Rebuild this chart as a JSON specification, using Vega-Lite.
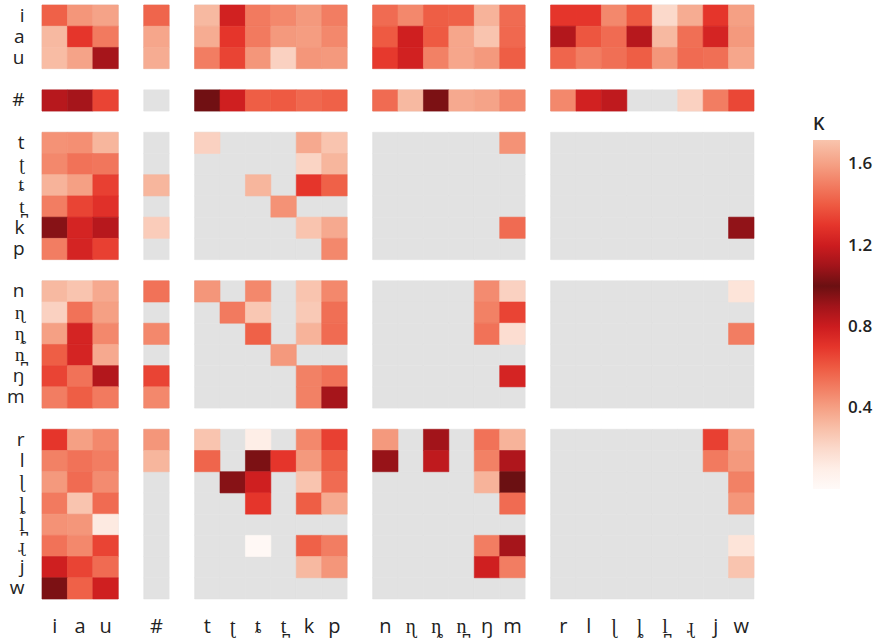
{
  "$schema": "https://vega.github.io/schema/vega-lite/v6.json",
  "autosize": {"type": "none"},
  "padding": {"left": 42, "top": 5, "right": 123, "bottom": 40},
  "width": 712,
  "height": 594,
  "config": {"view": {"stroke": null}, "font": "Open Sans"},
  "encoding": {
    "x": {
      "field": "c", "type": "nominal", "sort": null,
      "scale": {"domain": ["i","a","u","s1","#","s2","t","ʈ","ȶ","t\u032a","k","p","s3","n","ɳ","ȵ","n\u032a","ŋ","m","s4","r","l","ɭ","ȴ","l\u032a","ɻ","j","w"], "paddingInner": 0, "paddingOuter": 0},
      "axis": {"values": ["i","a","u","#","t","ʈ","ȶ","t\u032a","k","p","n","ɳ","ȵ","n\u032a","ŋ","m","r","l","ɭ","ȴ","l\u032a","ɻ","j","w"], "domain": false, "ticks": false, "title": null, "labelAngle": 0, "labelFontSize": 20, "labelPadding": 17, "labelColor": "#222222", "labelFont": "Open Sans"}
    },
    "y": {
      "field": "r", "type": "nominal", "sort": null,
      "scale": {"domain": ["i","a","u","s1","#","s2","t","ʈ","ȶ","t\u032a","k","p","s3","n","ɳ","ȵ","n\u032a","ŋ","m","s4","r","l","ɭ","ȴ","l\u032a","ɻ","j","w"], "paddingInner": 0, "paddingOuter": 0},
      "axis": {"values": ["i","a","u","#","t","ʈ","ȶ","t\u032a","k","p","n","ɳ","ȵ","n\u032a","ŋ","m","r","l","ɭ","ȴ","l\u032a","ɻ","j","w"], "domain": false, "ticks": false, "title": null, "labelFontSize": 19, "labelPadding": 18, "labelColor": "#222222", "labelFont": "Open Sans"}
    }
  },
  "layer": [
    {
      "data": {"values": [{"r": ["i","a","u","#","t","ʈ","ȶ","t\u032a","k","p","n","ɳ","ȵ","n\u032a","ŋ","m","r","l","ɭ","ȴ","l\u032a","ɻ","j","w"], "c": ["i","a","u","#","t","ʈ","ȶ","t\u032a","k","p","n","ɳ","ȵ","n\u032a","ŋ","m","r","l","ɭ","ȴ","l\u032a","ɻ","j","w"]}]},
      "transform": [{"flatten": ["r"]}, {"flatten": ["c"]}],
      "mark": {"type": "rect", "color": "#e2e2e2", "fill": "#e2e2e2", "stroke": "#e2e2e2", "strokeWidth": 0.6}
    },
    {
      "data": {"values": [
        {"r":"i","c":"i","K":0.58},{"r":"i","c":"a","K":0.43},{"r":"i","c":"u","K":0.39},{"r":"i","c":"#","K":0.57},
        {"r":"i","c":"t","K":0.32},{"r":"i","c":"ʈ","K":0.78},{"r":"i","c":"ȶ","K":0.51},{"r":"i","c":"t\u032a","K":0.47},{"r":"i","c":"k","K":0.42},{"r":"i","c":"p","K":0.50},
        {"r":"i","c":"n","K":0.55},{"r":"i","c":"ɳ","K":0.47},{"r":"i","c":"ȵ","K":0.59},{"r":"i","c":"n\u032a","K":0.58},{"r":"i","c":"ŋ","K":0.34},{"r":"i","c":"m","K":0.55},
        {"r":"i","c":"r","K":0.70},{"r":"i","c":"l","K":0.70},{"r":"i","c":"ɭ","K":0.47},{"r":"i","c":"ȴ","K":0.60},{"r":"i","c":"l\u032a","K":0.20},{"r":"i","c":"ɻ","K":0.36},{"r":"i","c":"j","K":0.70},{"r":"i","c":"w","K":0.40},

        {"r":"a","c":"i","K":0.32},{"r":"a","c":"a","K":0.70},{"r":"a","c":"u","K":0.51},{"r":"a","c":"#","K":0.38},
        {"r":"a","c":"t","K":0.36},{"r":"a","c":"ʈ","K":0.70},{"r":"a","c":"ȶ","K":0.51},{"r":"a","c":"t\u032a","K":0.42},{"r":"a","c":"k","K":0.41},{"r":"a","c":"p","K":0.47},
        {"r":"a","c":"n","K":0.60},{"r":"a","c":"ɳ","K":0.79},{"r":"a","c":"ȵ","K":0.60},{"r":"a","c":"n\u032a","K":0.38},{"r":"a","c":"ŋ","K":0.28},{"r":"a","c":"m","K":0.56},
        {"r":"a","c":"r","K":0.86},{"r":"a","c":"l","K":0.61},{"r":"a","c":"ɭ","K":0.55},{"r":"a","c":"ȴ","K":0.85},{"r":"a","c":"l\u032a","K":0.32},{"r":"a","c":"ɻ","K":0.54},{"r":"a","c":"j","K":0.77},{"r":"a","c":"w","K":0.42},

        {"r":"u","c":"i","K":0.31},{"r":"u","c":"a","K":0.39},{"r":"u","c":"u","K":0.89},{"r":"u","c":"#","K":0.36},
        {"r":"u","c":"t","K":0.50},{"r":"u","c":"ʈ","K":0.66},{"r":"u","c":"ȶ","K":0.43},{"r":"u","c":"t\u032a","K":0.23},{"r":"u","c":"k","K":0.43},{"r":"u","c":"p","K":0.42},
        {"r":"u","c":"n","K":0.69},{"r":"u","c":"ɳ","K":0.78},{"r":"u","c":"ȵ","K":0.49},{"r":"u","c":"n\u032a","K":0.38},{"r":"u","c":"ŋ","K":0.42},{"r":"u","c":"m","K":0.59},
        {"r":"u","c":"r","K":0.57},{"r":"u","c":"l","K":0.50},{"r":"u","c":"ɭ","K":0.54},{"r":"u","c":"ȴ","K":0.59},{"r":"u","c":"l\u032a","K":0.43},{"r":"u","c":"ɻ","K":0.55},{"r":"u","c":"j","K":0.54},{"r":"u","c":"w","K":0.38},

        {"r":"#","c":"i","K":0.85},{"r":"#","c":"a","K":0.89},{"r":"#","c":"u","K":0.66},
        {"r":"#","c":"t","K":0.99},{"r":"#","c":"ʈ","K":0.79},{"r":"#","c":"ȶ","K":0.59},{"r":"#","c":"t\u032a","K":0.60},{"r":"#","c":"k","K":0.56},{"r":"#","c":"p","K":0.58},
        {"r":"#","c":"n","K":0.55},{"r":"#","c":"ɳ","K":0.32},{"r":"#","c":"ȵ","K":0.97},{"r":"#","c":"n\u032a","K":0.37},{"r":"#","c":"ŋ","K":0.39},{"r":"#","c":"m","K":0.47},
        {"r":"#","c":"r","K":0.47},{"r":"#","c":"l","K":0.78},{"r":"#","c":"ɭ","K":0.83},{"r":"#","c":"ɻ","K":0.23},{"r":"#","c":"j","K":0.50},{"r":"#","c":"w","K":0.65},

        {"r":"t","c":"i","K":0.44},{"r":"t","c":"a","K":0.45},{"r":"t","c":"u","K":0.33},{"r":"t","c":"t","K":0.23},{"r":"t","c":"k","K":0.37},{"r":"t","c":"p","K":0.28},{"r":"t","c":"m","K":0.44},
        {"r":"ʈ","c":"i","K":0.47},{"r":"ʈ","c":"a","K":0.53},{"r":"ʈ","c":"u","K":0.52},{"r":"ʈ","c":"k","K":0.22},{"r":"ʈ","c":"p","K":0.33},
        {"r":"ȶ","c":"i","K":0.34},{"r":"ȶ","c":"a","K":0.40},{"r":"ȶ","c":"u","K":0.67},{"r":"ȶ","c":"#","K":0.33},{"r":"ȶ","c":"ȶ","K":0.33},{"r":"ȶ","c":"k","K":0.70},{"r":"ȶ","c":"p","K":0.58},
        {"r":"t\u032a","c":"i","K":0.50},{"r":"t\u032a","c":"a","K":0.66},{"r":"t\u032a","c":"u","K":0.72},{"r":"t\u032a","c":"t\u032a","K":0.44},
        {"r":"k","c":"i","K":0.95},{"r":"k","c":"a","K":0.77},{"r":"k","c":"u","K":0.85},{"r":"k","c":"#","K":0.25},{"r":"k","c":"k","K":0.28},{"r":"k","c":"p","K":0.37},{"r":"k","c":"m","K":0.55},{"r":"k","c":"w","K":0.93},
        {"r":"p","c":"i","K":0.50},{"r":"p","c":"a","K":0.77},{"r":"p","c":"u","K":0.67},{"r":"p","c":"p","K":0.47},

        {"r":"n","c":"i","K":0.32},{"r":"n","c":"a","K":0.28},{"r":"n","c":"u","K":0.37},{"r":"n","c":"#","K":0.53},{"r":"n","c":"t","K":0.43},{"r":"n","c":"ȶ","K":0.47},{"r":"n","c":"k","K":0.28},{"r":"n","c":"p","K":0.47},{"r":"n","c":"ŋ","K":0.46},{"r":"n","c":"m","K":0.23},{"r":"n","c":"w","K":0.15},
        {"r":"ɳ","c":"i","K":0.23},{"r":"ɳ","c":"a","K":0.53},{"r":"ɳ","c":"u","K":0.40},{"r":"ɳ","c":"ʈ","K":0.51},{"r":"ɳ","c":"ȶ","K":0.27},{"r":"ɳ","c":"k","K":0.26},{"r":"ɳ","c":"p","K":0.54},{"r":"ɳ","c":"ŋ","K":0.49},{"r":"ɳ","c":"m","K":0.66},
        {"r":"ȵ","c":"i","K":0.40},{"r":"ȵ","c":"a","K":0.77},{"r":"ȵ","c":"u","K":0.47},{"r":"ȵ","c":"#","K":0.47},{"r":"ȵ","c":"ȶ","K":0.58},{"r":"ȵ","c":"k","K":0.34},{"r":"ȵ","c":"p","K":0.55},{"r":"ȵ","c":"ŋ","K":0.53},{"r":"ȵ","c":"m","K":0.18},{"r":"ȵ","c":"w","K":0.50},
        {"r":"n\u032a","c":"i","K":0.59},{"r":"n\u032a","c":"a","K":0.77},{"r":"n\u032a","c":"u","K":0.37},{"r":"n\u032a","c":"t\u032a","K":0.42},
        {"r":"ŋ","c":"i","K":0.66},{"r":"ŋ","c":"a","K":0.53},{"r":"ŋ","c":"u","K":0.86},{"r":"ŋ","c":"#","K":0.66},{"r":"ŋ","c":"k","K":0.49},{"r":"ŋ","c":"p","K":0.53},{"r":"ŋ","c":"m","K":0.77},
        {"r":"m","c":"i","K":0.50},{"r":"m","c":"a","K":0.59},{"r":"m","c":"u","K":0.51},{"r":"m","c":"#","K":0.47},{"r":"m","c":"k","K":0.49},{"r":"m","c":"p","K":0.89},

        {"r":"r","c":"i","K":0.70},{"r":"r","c":"a","K":0.40},{"r":"r","c":"u","K":0.47},{"r":"r","c":"#","K":0.43},{"r":"r","c":"t","K":0.28},{"r":"r","c":"ȶ","K":0.10},{"r":"r","c":"k","K":0.47},{"r":"r","c":"p","K":0.67},{"r":"r","c":"n","K":0.42},{"r":"r","c":"ȵ","K":0.90},{"r":"r","c":"ŋ","K":0.53},{"r":"r","c":"m","K":0.34},{"r":"r","c":"j","K":0.67},{"r":"r","c":"w","K":0.40},
        {"r":"l","c":"i","K":0.49},{"r":"l","c":"a","K":0.53},{"r":"l","c":"u","K":0.50},{"r":"l","c":"#","K":0.33},{"r":"l","c":"t","K":0.57},{"r":"l","c":"ȶ","K":0.97},{"r":"l","c":"t\u032a","K":0.70},{"r":"l","c":"k","K":0.42},{"r":"l","c":"p","K":0.59},{"r":"l","c":"n","K":0.92},{"r":"l","c":"ȵ","K":0.83},{"r":"l","c":"ŋ","K":0.49},{"r":"l","c":"m","K":0.87},{"r":"l","c":"j","K":0.51},{"r":"l","c":"w","K":0.42},
        {"r":"ɭ","c":"i","K":0.42},{"r":"ɭ","c":"a","K":0.55},{"r":"ɭ","c":"u","K":0.46},{"r":"ɭ","c":"ʈ","K":0.95},{"r":"ɭ","c":"ȶ","K":0.79},{"r":"ɭ","c":"k","K":0.28},{"r":"ɭ","c":"p","K":0.55},{"r":"ɭ","c":"ŋ","K":0.34},{"r":"ɭ","c":"m","K":1.0},{"r":"ɭ","c":"w","K":0.49},
        {"r":"ȴ","c":"i","K":0.51},{"r":"ȴ","c":"a","K":0.28},{"r":"ȴ","c":"u","K":0.55},{"r":"ȴ","c":"ȶ","K":0.70},{"r":"ȴ","c":"k","K":0.59},{"r":"ȴ","c":"p","K":0.37},{"r":"ȴ","c":"m","K":0.55},{"r":"ȴ","c":"w","K":0.43},
        {"r":"l\u032a","c":"i","K":0.44},{"r":"l\u032a","c":"a","K":0.43},{"r":"l\u032a","c":"u","K":0.12},
        {"r":"ɻ","c":"i","K":0.53},{"r":"ɻ","c":"a","K":0.47},{"r":"ɻ","c":"u","K":0.66},{"r":"ɻ","c":"ȶ","K":0.02},{"r":"ɻ","c":"k","K":0.58},{"r":"ɻ","c":"p","K":0.50},{"r":"ɻ","c":"ŋ","K":0.50},{"r":"ɻ","c":"m","K":0.89},{"r":"ɻ","c":"w","K":0.15},
        {"r":"j","c":"i","K":0.79},{"r":"j","c":"a","K":0.66},{"r":"j","c":"u","K":0.55},{"r":"j","c":"k","K":0.32},{"r":"j","c":"p","K":0.43},{"r":"j","c":"ŋ","K":0.79},{"r":"j","c":"m","K":0.50},{"r":"j","c":"w","K":0.28},
        {"r":"w","c":"i","K":0.97},{"r":"w","c":"a","K":0.58},{"r":"w","c":"u","K":0.79}
      ]},
      "mark": {"type": "rect", "strokeWidth": 0.6, "stroke": {"expr": "scale('color', datum.K)"}},
      "encoding": {
        "color": {
          "field": "K", "type": "quantitative",
          "scale": {
            "domain": [0.0, 0.1, 0.2, 0.3, 0.4, 0.5, 0.6, 0.7, 0.8, 0.9, 1.0, 1.1, 1.2, 1.3, 1.4, 1.5, 1.6, 1.72],
            "range": ["#fffaf8", "#feeee7", "#fbd9cb", "#f8bfa8", "#f5a084", "#f27d62", "#ee5a42", "#e5352b", "#cc1c1f", "#a2141a", "#6b1012", "#a2141a", "#cc1c1f", "#e5352b", "#ee5a42", "#f27d62", "#f5a084", "#f9c4ad"],
            "interpolate": "rgb"
          },
          "legend": {
            "orient": "none", "legendX": 771, "legendY": 111, "direction": "vertical",
            "gradientLength": 349, "gradientThickness": 27, "gradientStrokeWidth": 0,
            "values": [0.4, 0.8, 1.2, 1.6], "format": ".1f",
            "title": "K", "titleFontSize": 18, "titleFontWeight": 600, "titleColor": "#222222", "titlePadding": 6, "titleFont": "Open Sans",
            "labelFontSize": 17, "labelFontWeight": 600, "labelColor": "#222222", "labelOffset": 8, "labelFont": "Open Sans"
          }
        }
      }
    }
  ]
}
